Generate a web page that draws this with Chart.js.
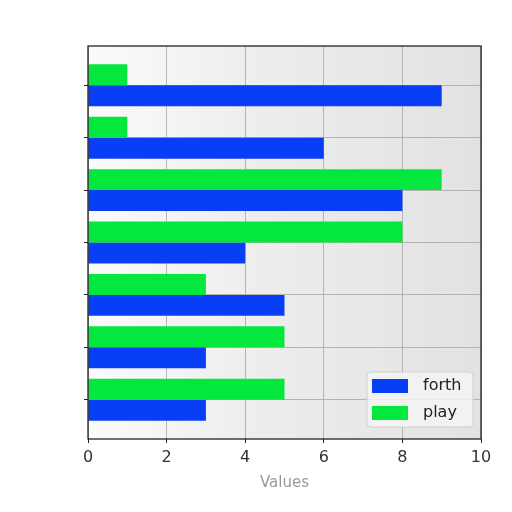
<!DOCTYPE html>
<html>
<head>
<meta charset="utf-8">
<script src="https://cdn.jsdelivr.net/npm/chart.js@4/dist/chart.umd.min.js"></script>
<style>
	html, body { margin: 0; padding: 0; background: #fff; }
	#wrap { width: 512px; height: 512px; }
</style>
</head>
<body>
<div id="wrap"><canvas id="chart" width="512" height="512"></canvas></div>
<script>
// categories top to bottom (no labels shown on the axis)
let categories = ["1", "2", "3", "4", "5", "6", "7"];
let playValues = [1, 1, 9, 8, 3, 5, 5];
let forthValues = [9, 6, 8, 4, 5, 3, 3];
let xTicks = [0, 2, 4, 6, 8, 10];

let blue = "rgb(8, 62, 246)";
let green = "rgb(4, 232, 62)";

function points(values){
	return values.map(function(v, i){ return { x: v, y: i }; });
}

let bgPlugin = {
	id: "plotBg",
	beforeDraw: function(chart){
		let a = chart.chartArea, ctx = chart.ctx;
		let g = ctx.createLinearGradient(a.left, 0, a.right, 0);
		g.addColorStop(0, "#fbfbfb");
		g.addColorStop(0.4, "#eeeeee");
		g.addColorStop(1, "#e2e2e2");
		ctx.save();
		ctx.fillStyle = g;
		ctx.fillRect(a.left, a.top, a.right - a.left, a.bottom - a.top);
		ctx.restore();
	}
};

let framePlugin = {
	id: "frameLegend",
	afterDraw: function(chart){
		let a = chart.chartArea, ctx = chart.ctx;
		ctx.save();
		ctx.strokeStyle = "#111";
		ctx.lineWidth = 1.2;
		ctx.strokeRect(a.left, a.top, a.right - a.left, a.bottom - a.top);

		// legend box, bottom right inside the plot
		let bx = a.right - 114, by = a.bottom - 67, bw = 106, bh = 55;
		ctx.fillStyle = "rgba(245,245,245,0.85)";
		ctx.strokeStyle = "#d0d0d0";
		ctx.lineWidth = 1;
		ctx.beginPath();
		ctx.roundRect(bx, by, bw, bh, 4);
		ctx.fill();
		ctx.stroke();

		let ds = chart.data.datasets.slice().reverse();
		ctx.font = "16px 'DejaVu Sans'";
		ctx.textBaseline = "middle";
		ds.forEach(function(d, i){
			let cy = by + 14 + i * 27;
			ctx.fillStyle = d.backgroundColor;
			ctx.fillRect(bx + 5, cy - 7, 36, 14);
			ctx.fillStyle = "#222";
			ctx.fillText(d.label, bx + 56, cy);
		});
		ctx.restore();
	}
};

let ctx = document.getElementById("chart").getContext("2d");

new Chart(ctx, {
	type: "bar",
	data: {
		labels: categories,
		datasets: [{
			label: "play",
			backgroundColor: green,
			data: points(playValues),
			categoryPercentage: 0.8,
			barPercentage: 1.0
		},{
			label: "forth",
			backgroundColor: blue,
			data: points(forthValues),
			categoryPercentage: 0.8,
			barPercentage: 1.0
		}]
	},
	options: {
		indexAxis: "y",
		responsive: false,
		animation: false,
		layout: { padding: { left: 78, right: 31, top: 46, bottom: 16 } },
		plugins: {
			legend: { display: false },
			tooltip: { enabled: false }
		},
		scales: {
			x: {
				type: "linear",
				min: 0,
				max: 10,
				z: 1,
				afterBuildTicks: function(s){
					s.ticks = xTicks.map(function(v){ return { value: v }; });
				},
				afterFit: function(s){ s.height = 57; },
				grid: { color: "rgba(170,170,170,0.85)", tickColor: "#222", tickLength: 4 },
				border: { display: false },
				ticks: {
					color: "#333",
					padding: 5,
					font: { family: "DejaVu Sans", size: 16 }
				},
				title: {
					display: true,
					text: "Values",
					color: "#999",
					font: { family: "DejaVu Sans", size: 15 }
				}
			},
			y: {
				type: "linear",
				min: -0.75,
				max: 6.75,
				reverse: true,
				offset: false,
				z: 1,
				afterBuildTicks: function(s){
					s.ticks = categories.map(function(c, i){ return { value: i }; });
				},
				afterFit: function(s){ s.width = 10; },
				grid: { offset: false, color: "rgba(170,170,170,0.85)", tickColor: "#222", tickLength: 4 },
				border: { display: false },
				ticks: { display: false }
			}
		}
	},
	plugins: [bgPlugin, framePlugin]
});
</script>
</body>
</html>
